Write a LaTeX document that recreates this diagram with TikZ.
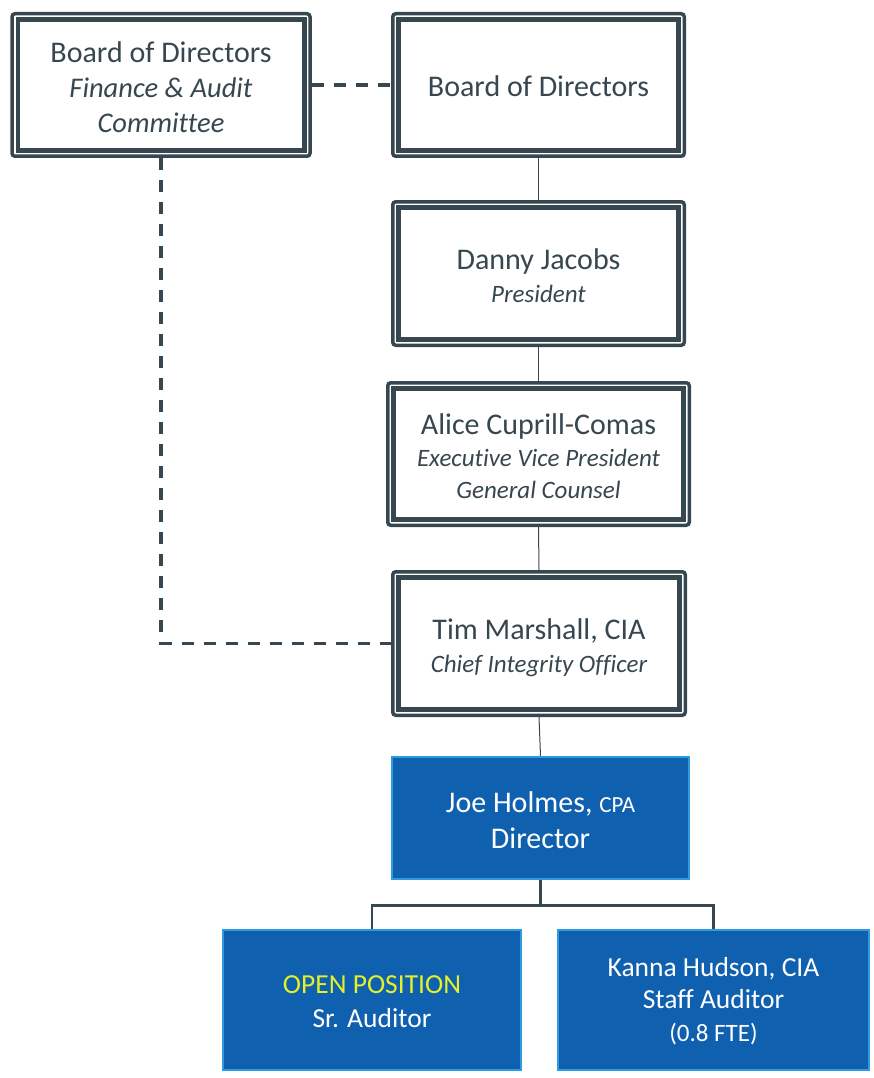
\documentclass[tikz,border=0pt]{standalone}
\usepackage{fontspec}
\setmainfont{Carlito}[Ligatures=NoCommon]
\usetikzlibrary{calc}
\definecolor{slate}{RGB}{55,71,79}
\definecolor{fillblue}{RGB}{16,96,176}
\definecolor{bordblue}{RGB}{46,155,224}
\definecolor{openyellow}{RGB}{228,240,40}
\tikzset{
  frame/.style={draw=slate, line width=3.5pt, rounded corners=3pt, fill=white, inner sep=0pt},
  innerframe/.style={draw=slate, line width=4.5pt},
  darktext/.style={text=slate, align=center, inner sep=0pt},
  bluebox/.style={draw=bordblue, line width=2.5pt, fill=fillblue, inner sep=0pt},
  whitetext/.style={text=white, align=center, inner sep=0pt},
  thinlink/.style={draw=slate, line width=1pt},
  dashlink/.style={draw=slate, line width=3.5pt, dash pattern=on 12pt off 10pt},
  treelink/.style={draw=slate, line width=2.5pt},
}
\begin{document}
\begin{tikzpicture}[x=1pt,y=-1pt]
\useasboundingbox (0,0) rectangle (874,1078);

\node[frame, minimum width=298pt, minimum height=142.5pt] (a) at (161,85) {};
\node[frame, minimum width=291.5pt, minimum height=142.5pt] (b) at (538.5,85) {};
\node[frame, minimum width=291.5pt, minimum height=143.5pt] (c) at (538.5,273.5) {};
\node[frame, minimum width=301.5pt, minimum height=142.5pt] (d) at (538.5,454) {};
\node[frame, minimum width=292.5pt, minimum height=143.5pt] (e) at (539,643.5) {};

\foreach \n in {a,b,c,d,e}
  \draw[innerframe] ([xshift=7.5pt,yshift=-7.5pt]\n.north west) rectangle ([xshift=-7.5pt,yshift=7.5pt]\n.south east);

\node[darktext, font=\fontsize{30}{35}\selectfont] (at) at ([yshift=-2pt]a.center)
  {Board of Directors\\ {\itshape\fontsize{28.5}{35}\selectfont Finance \& Audit}\\ {\itshape\fontsize{28.5}{35}\selectfont Committee}};
\node[darktext, font=\fontsize{30}{35}\selectfont] (bt) at ([yshift=-1.5pt]b.center) {Board of Directors};
\node[darktext, font=\fontsize{30}{33}\selectfont] (ct) at ([yshift=-2.5pt]c.center)
  {Danny Jacobs\\ {\itshape\fontsize{25}{33}\selectfont President}};
\node[darktext, font=\fontsize{30}{32}\selectfont] (dt) at ([yshift=-2.5pt]d.center)
  {Alice Cuprill-Comas\\ {\itshape\fontsize{25}{32}\selectfont Executive Vice President}\\ {\itshape\fontsize{25}{32}\selectfont General Counsel}};
\node[darktext, font=\fontsize{30}{33}\selectfont] (et) at ([yshift=-4pt]e.center)
  {Tim Marshall, CIA\\ {\itshape\fontsize{25}{33}\selectfont Chief Integrity Officer}};

\node[bluebox, minimum width=297pt, minimum height=122pt] (f) at (540.5,818) {};
\node[bluebox, minimum width=298pt, minimum height=140pt] (g) at (372,1000) {};
\node[bluebox, minimum width=311pt, minimum height=140pt] (h) at (713.5,1000) {};
\node[whitetext, font=\fontsize{30}{36}\selectfont] (ft) at ([yshift=-2pt]f.center)
  {Joe Holmes, {\fontsize{23}{36}\selectfont CPA}\\ Director};
\node[whitetext, font=\fontsize{27.5}{34}\selectfont] (gt) at ([yshift=-2pt]g.center)
  {\textcolor{openyellow}{OPEN POSITION}\\ Sr. Auditor};
\node[whitetext, font=\fontsize{27.5}{32.5}\selectfont] (ht) at ([yshift=-1pt]h.center)
  {Kanna Hudson, CIA\\ Staff Auditor\\ {\fontsize{25}{32.5}\selectfont (0.8 FTE)}};

\draw[thinlink] (b.south) -- (c.north);
\draw[thinlink] (c.south) -- (d.north);
\draw[thinlink] (d.south) -- (e.north);
\draw[thinlink] (e.south) -- (f.north);
\draw[dashlink] (a.east) -- (b.west);
\draw[dashlink] (a.south) |- (e.west);
\coordinate (split) at ($(f.south)+(0,25)$);
\draw[treelink] (f.south) -- (split);
\draw[treelink] (split) -| (g.north);
\draw[treelink] (split) -| (h.north);
\end{tikzpicture}
\end{document}
